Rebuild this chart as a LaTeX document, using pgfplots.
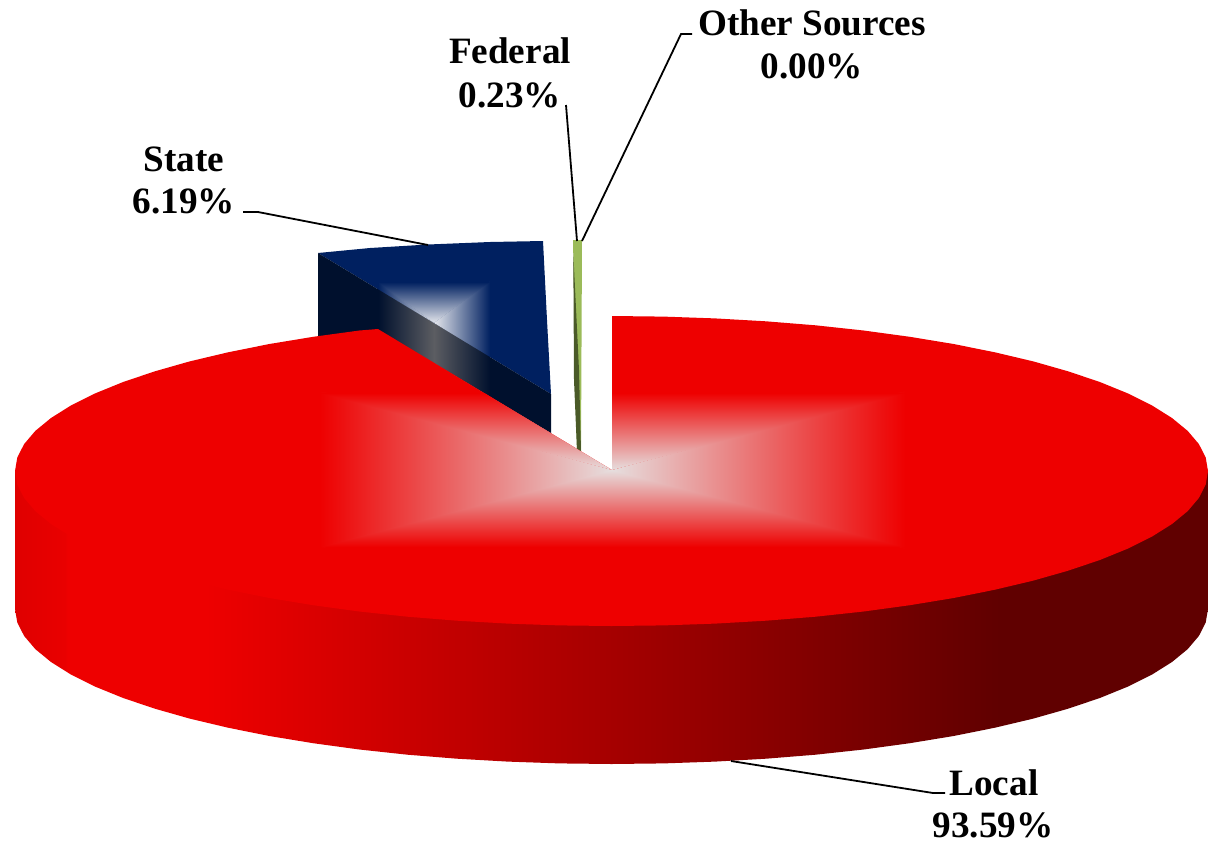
\documentclass[border=0pt]{standalone}
\usepackage{pgfplots}
\pgfplotsset{compat=1.18}
\usepackage{fontspec}
\setmainfont{Liberation Serif}
\definecolor{rtop}{HTML}{EE0000}
\definecolor{rglow}{HTML}{E6DEDE}
\definecolor{btop}{HTML}{002060}
\definecolor{bglow}{HTML}{E4E6EC}
\definecolor{gtop}{HTML}{9BBB59}
\definecolor{gdark}{HTML}{4A5A28}
\pgfdeclarehorizontalshading{redwallb}{100bp}{
  rgb(0bp)=(0.875,0,0);
  rgb(25bp)=(0.875,0,0);
  rgb(27.1bp)=(0.915,0,0);
  rgb(27.2bp)=(0.933,0,0);
  rgb(33bp)=(0.933,0,0);
  rgb(66.3bp)=(0.376,0,0);
  rgb(100bp)=(0.376,0,0)}
\pgfdeclarehorizontalshading{bluewall}{100bp}{
  rgb(0bp)=(0,0.063,0.176);
  rgb(37.9bp)=(0,0.063,0.176);
  rgb(49.9bp)=(0.36,0.365,0.385);
  rgb(61.9bp)=(0,0.063,0.176);
  rgb(100bp)=(0,0.063,0.176)}
\newcommand{\lab}{\fontsize{37.2}{42}\selectfont\bfseries}
\begin{document}
\begin{tikzpicture}
\begin{axis}[
  width=1208pt,height=847pt,scale only axis,
  xmin=0,xmax=1208,ymin=0,ymax=847,y dir=reverse,
  hide axis,clip=false,
  every axis plot/.append style={mark=none},
]
\path (axis cs:0,0) rectangle (axis cs:1208,847);
% State: top with glow, then side wall
\addplot[draw=none,fill=btop] coordinates {(318,253)(370,248)(428,244.5)(490,242)(543,241)(547,320)(551,394)};
\addplot[draw=none,left color=bglow,right color=btop] coordinates {(490,281)(490,358)(434,323)};
\addplot[draw=none,left color=btop,right color=bglow] coordinates {(378,281)(434,323)(378,290)};
\addplot[draw=none,top color=btop,bottom color=bglow] coordinates {(378,282)(490,282)(434,323)};
\addplot[draw=none,shading=bluewall] coordinates {(318,253)(551,394)(551,433)(378,330)(318,337)};
% Other Sources / Federal sliver
\addplot[draw=none,fill=gtop] coordinates {(573,240)(582,240)(581,451)(577,451)};
\addplot[draw=none,fill=gdark] coordinates {(573.3,253)(579,370)(581,451)(577,451)(574,380)};
% Local: wall
\addplot[draw=none,shading=redwallb] coordinates {(15,471)(15,609)(17.3,622.5)(24.1,635.9)(35.3,649.1)(51,662)(70.9,674.5)(94.9,686.5)(122.9,697.9)(154.6,708.6)(189.7,718.6)(228.1,727.7)(269.4,736)(313.2,743.2)(359.4,749.5)(407.5,754.7)(457.1,758.7)(507.9,761.6)(559.5,763.4)(611.5,764)(663.5,763.4)(715.1,761.6)(765.9,758.7)(815.5,754.7)(863.6,749.5)(909.8,743.2)(953.6,736)(994.9,727.7)(1033.3,718.6)(1068.4,708.6)(1100.1,697.9)(1128.1,686.5)(1152.1,674.5)(1172,662)(1187.7,649.1)(1198.9,635.9)(1205.7,622.5)(1208,609)(1208,471)};
% Local: top
\addplot[draw=none,fill=rtop] coordinates {(612,470)(612,316)(663.5,316.6)(715.1,318.4)(765.9,321.3)(815.5,325.3)(863.6,330.5)(909.8,336.8)(953.6,344)(994.9,352.3)(1033.3,361.4)(1068.4,371.4)(1100.1,382.1)(1128.1,393.5)(1152.1,405.5)(1172,418)(1187.7,430.9)(1198.9,444.1)(1205.7,457.5)(1208,471)(1205.7,484.5)(1198.9,497.9)(1187.7,511.1)(1172,524)(1152.1,536.5)(1128.1,548.5)(1100.1,559.9)(1068.4,570.6)(1033.3,580.6)(994.9,589.7)(953.6,598)(909.8,605.2)(863.6,611.5)(815.5,616.7)(765.9,620.7)(715.1,623.6)(663.5,625.4)(611.5,626)(559.5,625.4)(507.9,623.6)(457.1,620.7)(407.5,616.7)(359.4,611.5)(313.2,605.2)(269.4,598)(228.1,589.7)(189.7,580.6)(154.6,570.6)(122.9,559.9)(94.9,548.5)(70.9,536.5)(51,524)(35.3,511.1)(24.1,497.9)(17.3,484.5)(15,471)(17.3,457.5)(24.1,444.1)(35.3,430.9)(51,418)(70.9,405.5)(94.9,393.5)(122.9,382.1)(154.6,371.4)(189.7,361.4)(228.1,352.3)(269.4,344)(313.2,336.8)(359.4,330.5)(378,329)};
% Local: glow
\addplot[draw=none,left color=rtop,right color=rglow] coordinates {(320,391)(612,470)(612,472)(320,549)};
\addplot[draw=none,left color=rglow,right color=rtop] coordinates {(905,391)(905,549)(612,472)(612,470)};
\addplot[draw=none,top color=rglow,bottom color=rtop] coordinates {(320,547)(905,547)(612,470)};
\addplot[draw=none,top color=rtop,bottom color=rglow] coordinates {(320,393)(484.2,393)(612,470)};
\addplot[draw=none,top color=rtop,bottom color=rglow] coordinates {(612,393)(905,393)(612,470)};
% Leaders
\addplot[black,line width=1.8pt] coordinates {(731,761)(933,793)(945,793)};
\addplot[black,line width=1.8pt] coordinates {(243,212)(258,212)(428,245)};
\addplot[black,line width=1.8pt] coordinates {(566,105)(577,241)};
\addplot[black,line width=1.8pt] coordinates {(692,34)(681,34)(582,241)};
% Labels
\node[anchor=base,inner sep=0pt] at (axis cs:994,795) {\lab Local};
\node[anchor=base,inner sep=0pt] at (axis cs:993,837) {\lab 93.59\%};
\node[anchor=base,inner sep=0pt] at (axis cs:184,171) {\lab State};
\node[anchor=base,inner sep=0pt] at (axis cs:184,213) {\lab 6.19\%};
\node[anchor=base,inner sep=0pt] at (axis cs:510,63) {\lab Federal};
\node[anchor=base,inner sep=0pt] at (axis cs:510,107) {\lab 0.23\%};
\node[anchor=base,inner sep=0pt] at (axis cs:812,35) {\lab Other Sources};
\node[anchor=base,inner sep=0pt] at (axis cs:812,78) {\lab 0.00\%};
\end{axis}
\end{tikzpicture}
\end{document}
